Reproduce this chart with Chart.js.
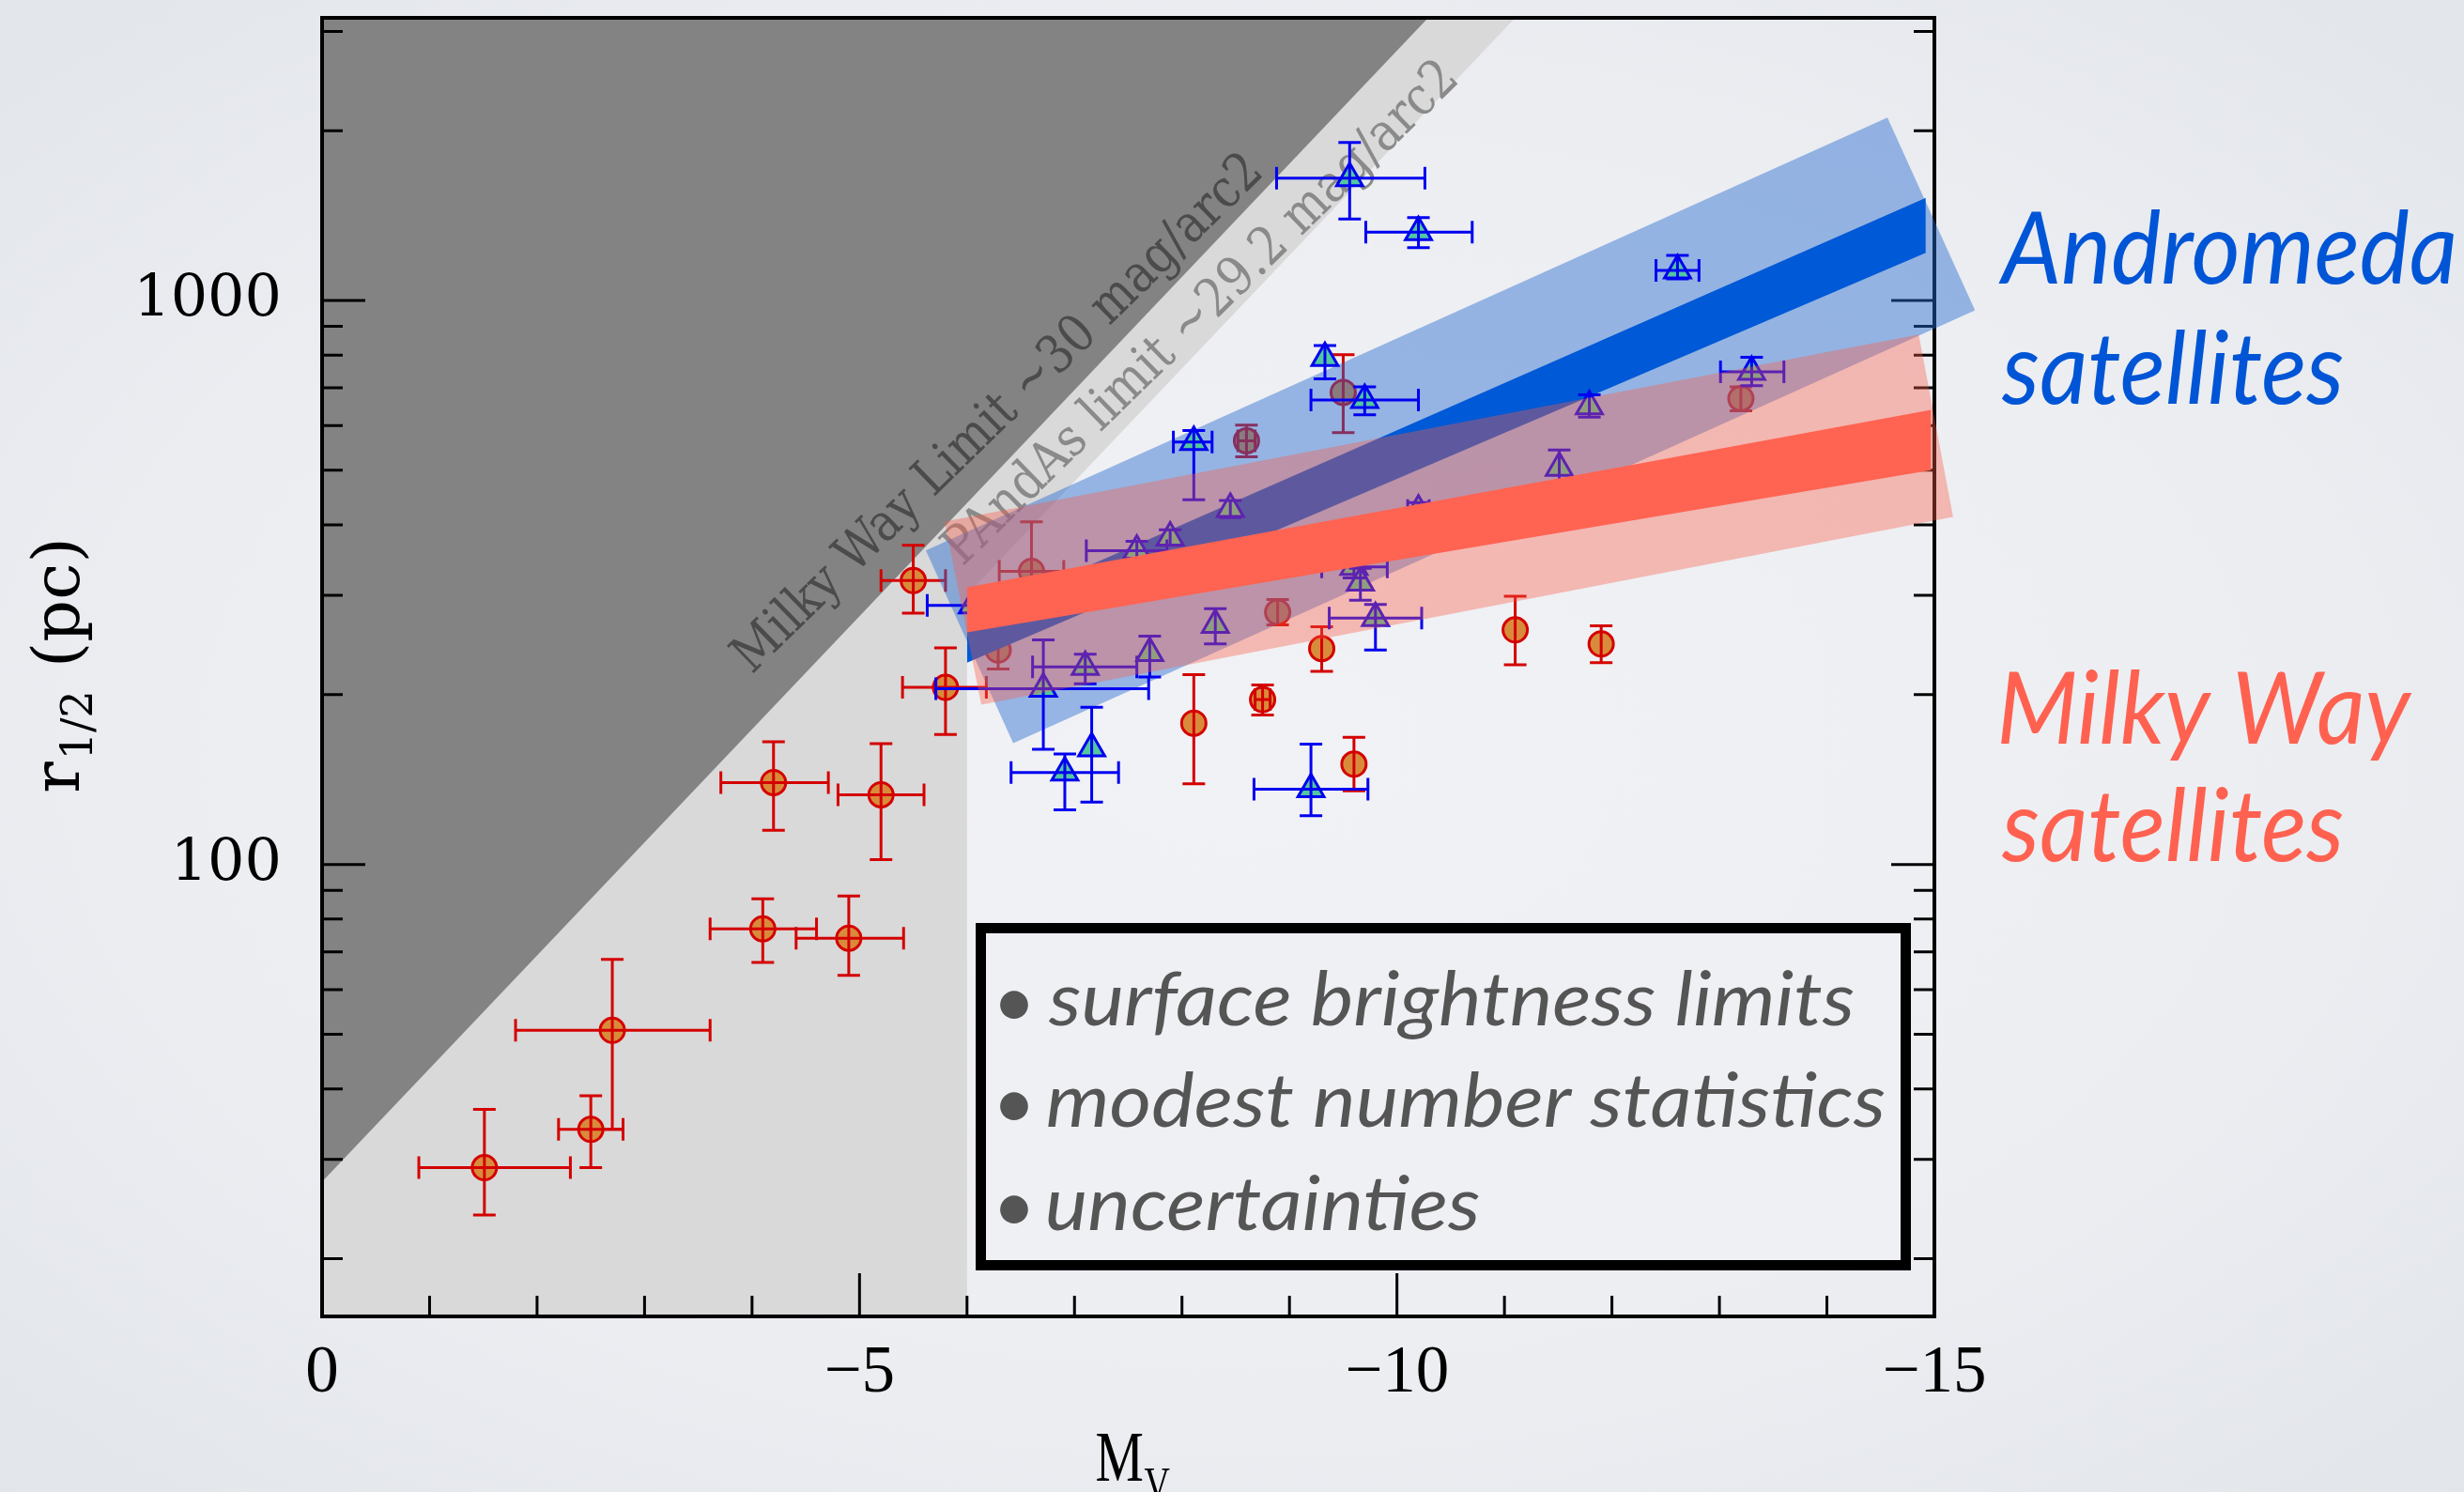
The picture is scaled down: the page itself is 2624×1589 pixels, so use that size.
<!DOCTYPE html>
<html><head><meta charset="utf-8">
<script src="https://cdn.jsdelivr.net/npm/chart.js@4.4.1/dist/chart.umd.min.js"></script>
<style>
html,body{margin:0;padding:0;width:2624px;height:1589px;overflow:hidden;
background:radial-gradient(ellipse 75% 75% at 50% 50%, #f1f2f5 0%, #eceef2 55%, #e1e4e9 100%);}
canvas{display:block}
</style></head><body>
<canvas id="c" width="2624" height="1589"></canvas>
<script>
// ---------------- axes ----------------
const xRange = [-15, 0];
const yRange = [15.8, 3170];
const xMajorTicks = [0, -5, -10, -15];
const xMajorLabels = ['0', '\u22125', '\u221210', '\u221215'];
const xMinorTicks = [-1, -2, -3, -4, -6, -7, -8, -9, -11, -12, -13, -14];
const yMajorTicks = [100, 1000];
const yMajorLabels = ['100', '1000'];
const yMinorTicks = [20, 30, 40, 50, 60, 70, 80, 90, 200, 300, 400, 500, 600, 700, 800, 900, 2000, 3000];

// ---------------- surface-brightness limits ----------------
const mwLimitMv = [0, -10.29];
const mwLimitR = [27.4, 3170];
const pandasLimitMv = [0, -6.0, -6.0, -11.10];
const pandasLimitR = [15.8, 15.8, 301, 3170];

// ---------------- Milky Way satellites ----------------
const mwMv   = [-1.51, -2.50, -2.70, -4.10, -4.90, -4.20, -5.20, -5.80, -5.50, -6.60, -6.29, -9.50, -8.60, -8.89, -9.30, -11.10, -11.90, -8.75, -8.11, -9.60, -13.20];
const mwR    = [29.0, 33.9, 50.8, 76.9, 74.0, 139.7, 132.9, 206, 318.6, 331, 240, 687, 564, 280, 241.5, 260.6, 246, 196, 178, 150.6, 670];
const mwMvLo = [-0.90, -2.20, -1.80, -3.61, -4.41, -3.71, -4.80, -5.40, -5.20, -6.30, null, null, -8.52, null, null, null, null, -8.68, null, null, null];
const mwMvHi = [-2.31, -2.80, -3.61, -4.60, -5.41, -4.71, -5.60, -6.18, -5.80, -6.90, null, null, -8.68, null, null, null, null, -8.82, null, null, null];
const mwRLo  = [23.9, 29.0, 33.9, 67.0, 63.6, 115, 102, 170, 279, 270, 222, 583, 528, 266, 220, 226, 228, 184, 139, 135, 637];
const mwRHi  = [36.8, 38.9, 67.9, 86.9, 87.9, 165, 163.7, 242, 368, 405, 255, 801, 601, 295, 264, 299, 265, 208, 217, 168, 703];

// ---------------- Andromeda satellites ----------------
const m31Mv   = [-9.56, -10.20, -12.61, -8.11, -9.33, -9.70, -13.30, -11.79, -9.60, -9.66, -9.80, -8.31, -7.70, -7.10, -6.71, -7.16, -6.91, -9.20, -7.58, -7.89, -8.45, -10.20, -11.51, -6.05];
const m31R    = [1647, 1322, 1130, 561, 791, 666, 747, 649, 337, 316, 273.5, 266, 237, 224, 205, 160.7, 145.5, 136, 360, 380, 427, 424, 505, 288];
const m31MvLo = [-8.88, -9.71, -12.41, -7.92, null, -9.20, -13.01, null, -9.30, null, -9.37, null, null, -6.61, -5.71, null, -6.41, -8.67, -7.11, null, null, -10.10, null, -5.63];
const m31MvHi = [-10.26, -10.70, -12.81, -8.28, null, -10.20, -13.60, null, -9.91, null, -10.23, null, null, -7.58, -7.69, null, -7.41, -9.73, -7.86, null, null, -10.30, null, -6.13];
const m31RLo  = [1395, 1241, 1092, 443, 726, 627, 706, 621, 322, 294, 240, 246, 215, 209, 160, 129, 125, 122, 347, 368, 412, 410, 466, null];
const m31RHi  = [1906, 1403, 1202, 588, 832, 703, 793, 680, 352, 335, 289, 284, 254, 236, 250, 190, 157, 163.5, 374, 392, 442, 438, 543, null];

// ---------------- size-luminosity relations (clouds) and scatter bands ----------------
const m31CloudMv = [-6.0, -14.92];
const m31CloudUpperR = [272, 1520];
const m31CloudLowerR = [228, 1215];
const mwCloudMv = [-6.0, -14.97];
const mwCloudUpperR = [310, 640];
const mwCloudLowerR = [258, 500];
const m31BandMv = [-5.617, -14.563, -15.378, -6.430];
const m31BandR  = [360.5, 2109, 960, 164.1];
const mwBandMv  = [-5.792, -14.854, -15.174, -6.133];
const mwBandR   = [405.6, 870.5, 413.3, 191.9];

// ---------------- texts ----------------
const limitTexts = ['Milky Way Limit ~30 mag/arc2', 'PAndAs limit ~29.2 mag/arc2'];
const limitAnchorMv = [-4.0, -5.958];
const limitAnchorR = [216.9, 336.6];
const sideLabels = [['Andromeda', 'satellites'], ['Milky Way', 'satellites']];
const noteLines = ['surface brightness limits', 'modest number statistics', 'uncertainties'];

// ---------------- styles ----------------
const C = {
  dark: '#838383', light: '#d9d9d9',
  mwFill: '#d98b3c', mwEdge: '#d40000',
  m31Fill: '#52c7a0', m31Edge: '#0000f0',
  m31Band: 'rgba(40,107,208,0.45)', mwBand: 'rgba(249,91,68,0.375)',
  m31Cloud: '#0059d6', mwCloud: '#ff6352',
  m31Text: '#0055d6', mwText: '#ff6150', note: '#555555'
};

const pts = (xs, ys) => xs.map((v, i) => ({x: v, y: ys[i]}));
const hidden = {borderWidth: 0, borderColor: 'transparent', pointRadius: 0, pointHoverRadius: 0};

function drawPoly(chart, xs, ys, color) {
  const {ctx, scales: {x, y}} = chart;
  ctx.save(); ctx.fillStyle = color; ctx.beginPath();
  xs.forEach((v, i) => {
    const px = x.getPixelForValue(v), py = y.getPixelForValue(ys[i]);
    if (i) ctx.lineTo(px, py); else ctx.moveTo(px, py);
  });
  ctx.closePath(); ctx.fill(); ctx.restore();
}

function drawErrors(chart, M, R, mLo, mHi, rLo, rHi, color) {
  const {ctx, scales: {x, y}} = chart;
  const cap = 12;
  ctx.save(); ctx.strokeStyle = color; ctx.lineWidth = 3; ctx.lineCap = 'butt';
  M.forEach((m, i) => {
    const px = x.getPixelForValue(m), py = y.getPixelForValue(R[i]);
    ctx.beginPath();
    if (mLo[i] !== null) {
      const a = x.getPixelForValue(mLo[i]), b = x.getPixelForValue(mHi[i]);
      ctx.moveTo(a, py); ctx.lineTo(b, py);
      ctx.moveTo(a, py - cap); ctx.lineTo(a, py + cap);
      ctx.moveTo(b, py - cap); ctx.lineTo(b, py + cap);
    }
    if (rLo[i] !== null) {
      const a = y.getPixelForValue(rLo[i]), b = y.getPixelForValue(rHi[i]);
      ctx.moveTo(px, a); ctx.lineTo(px, b);
      ctx.moveTo(px - cap, a); ctx.lineTo(px + cap, a);
      ctx.moveTo(px - cap, b); ctx.lineTo(px + cap, b);
    }
    ctx.stroke();
  });
  ctx.restore();
}

function inkScale(ctx, text, font, target) {
  ctx.font = font;
  const m = ctx.measureText(text);
  return target / (m.actualBoundingBoxRight + m.actualBoundingBoxLeft);
}
function drawScaled(ctx, text, x, y, font, sx) {
  ctx.save(); ctx.font = font;
  const m = ctx.measureText(text);
  ctx.translate(x + m.actualBoundingBoxLeft * sx, y); ctx.scale(sx, 1);
  ctx.fillText(text, 0, 0); ctx.restore();
}

function drawFrameAndTicks(chart) {
  const {ctx, chartArea: a, scales: {x, y}} = chart;
  ctx.save();
  ctx.strokeStyle = '#000'; ctx.lineWidth = 3;
  ctx.beginPath();
  const major = 46, minor = 22;
  xMajorTicks.forEach(v => { const p = x.getPixelForValue(v); ctx.moveTo(p, a.bottom); ctx.lineTo(p, a.bottom - major); });
  xMinorTicks.forEach(v => { const p = x.getPixelForValue(v); ctx.moveTo(p, a.bottom); ctx.lineTo(p, a.bottom - minor); });
  yMajorTicks.forEach(v => { const p = y.getPixelForValue(v);
    ctx.moveTo(a.left, p); ctx.lineTo(a.left + major, p); ctx.moveTo(a.right, p); ctx.lineTo(a.right - major, p); });
  yMinorTicks.forEach(v => { const p = y.getPixelForValue(v);
    ctx.moveTo(a.left, p); ctx.lineTo(a.left + minor, p); ctx.moveTo(a.right, p); ctx.lineTo(a.right - minor, p); });
  ctx.stroke();
  ctx.lineWidth = 4;
  ctx.strokeRect(a.left, a.top, a.right - a.left, a.bottom - a.top);
  ctx.restore();
}

function drawLimitTexts(chart) {
  const {ctx, scales: {x, y}} = chart;
  const ang = -44.3 * Math.PI / 180;
  const colors = ['#4b4b4b', '#8a8a8a'];
  const lens = [758, 735];
  limitTexts.forEach((t, i) => {
    const px = x.getPixelForValue(limitAnchorMv[i]), py = y.getPixelForValue(limitAnchorR[i]);
    const font = "56px 'DejaVu Serif'";
    const sx = inkScale(ctx, t, font, lens[i]);
    ctx.save(); ctx.translate(px, py); ctx.rotate(ang); ctx.scale(sx, 1);
    ctx.font = font; ctx.fillStyle = colors[i]; ctx.textBaseline = 'alphabetic';
    ctx.fillText(t, 0, 0); ctx.restore();
  });
}

function drawAnnotations(chart) {
  const {ctx, chartArea: a} = chart;
  // note box
  ctx.save();
  ctx.fillStyle = '#eff0f4';
  ctx.fillRect(1044, 988, 986, 360);
  ctx.strokeStyle = '#000'; ctx.lineWidth = 11;
  ctx.strokeRect(1044.5, 988.5, 985, 359);
  const nf = "italic 80px Lato";
  const nsx = inkScale(ctx, noteLines[1], nf, 891);
  const baselines = [1092, 1200, 1310];
  ctx.fillStyle = C.note; ctx.textBaseline = 'alphabetic';
  noteLines.forEach((t, i) => {
    drawScaled(ctx, t, 1116, baselines[i], nf, nsx);
    ctx.font = "80px Lato"; ctx.textAlign = 'center';
    ctx.fillText('\u2022', 1080, baselines[i] + 2);
    ctx.textAlign = 'left';
  });
  // side labels
  const sf = "italic 106px Lato";
  const ssx = inkScale(ctx, sideLabels[0][0], sf, 485);
  ctx.fillStyle = C.m31Text;
  drawScaled(ctx, sideLabels[0][0], 2128, 302, sf, ssx);
  drawScaled(ctx, sideLabels[0][1], 2131, 430, sf, ssx);
  ctx.fillStyle = C.mwText;
  drawScaled(ctx, sideLabels[1][0], 2131, 792, sf, ssx);
  drawScaled(ctx, sideLabels[1][1], 2131, 917, sf, ssx);
  // y title r_{1/2} (pc)
  ctx.fillStyle = '#000';
  const cy = (a.top + a.bottom) / 2;
  ctx.translate(84, cy); ctx.rotate(-Math.PI / 2);
  const big = "70px 'DejaVu Serif'", small = "46px 'DejaVu Serif'";
  ctx.font = big; const w1 = ctx.measureText('r').width; const w3 = ctx.measureText(' (pc)').width;
  ctx.font = small; const w2 = ctx.measureText('1/2').width;
  let x0 = -(w1 + w2 + w3) / 2;
  ctx.font = big; ctx.fillText('r', x0, 0);
  ctx.font = small; ctx.fillText('1/2', x0 + w1 + 2, 14);
  ctx.font = big; ctx.fillText(' (pc)', x0 + w1 + w2 + 4, 0);
  ctx.restore();
  // x title M_V
  ctx.save(); ctx.fillStyle = '#000';
  const cx = (a.left + a.right) / 2;
  ctx.translate(cx - 35, 1577); ctx.scale(0.76, 1);
  ctx.font = "76px 'Liberation Serif'"; ctx.fillText('M', 0, 0);
  const wm = ctx.measureText('M').width;
  ctx.font = "50px 'Liberation Serif'"; ctx.fillText('V', wm + 1, 20);
  ctx.restore();
}

const decor = {
  id: 'decor',
  beforeDatasetDraw(chart, args) {
    if (args.index === 2) { drawLimitTexts(chart); drawFrameAndTicks(chart); }
    if (args.index === 3) drawPoly(chart, m31BandMv, m31BandR, C.m31Band);
    if (args.index === 6) drawPoly(chart, mwBandMv, mwBandR, C.mwBand);
  },
  afterDatasetDraw(chart, args) {
    if (args.index === 2) drawErrors(chart, mwMv, mwR, mwMvLo, mwMvHi, mwRLo, mwRHi, C.mwEdge);
    if (args.index === 5) drawErrors(chart, m31Mv, m31R, m31MvLo, m31MvHi, m31RLo, m31RHi, C.m31Edge);
  },
  afterDatasetsDraw(chart) { drawAnnotations(chart); }
};

new Chart(document.getElementById('c'), {
  type: 'scatter',
  data: {
    datasets: [
      {type: 'line', data: pts(pandasLimitMv, pandasLimitR), fill: 'end', backgroundColor: C.light, order: 10, ...hidden},
      {type: 'line', data: pts(mwLimitMv, mwLimitR), fill: 'end', backgroundColor: C.dark, order: 9, ...hidden},
      {type: 'scatter', data: pts(mwMv, mwR), pointStyle: 'circle', pointRadius: 13, pointBackgroundColor: C.mwFill,
       pointBorderColor: C.mwEdge, pointBorderWidth: 3, order: 8},
      {type: 'line', data: pts(m31CloudMv, m31CloudUpperR), fill: false, order: 7, ...hidden},
      {type: 'line', data: pts(m31CloudMv, m31CloudLowerR), fill: '-1', backgroundColor: C.m31Cloud, order: 6, ...hidden},
      {type: 'scatter', data: pts(m31Mv, m31R), pointStyle: 'triangle', pointRadius: 16, pointBackgroundColor: C.m31Fill,
       pointBorderColor: C.m31Edge, pointBorderWidth: 3, order: 5},
      {type: 'line', data: pts(mwCloudMv, mwCloudUpperR), fill: false, order: 4, ...hidden},
      {type: 'line', data: pts(mwCloudMv, mwCloudLowerR), fill: '-1', backgroundColor: C.mwCloud, order: 3, ...hidden}
    ]
  },
  options: {
    responsive: false, animation: false, devicePixelRatio: 1, events: [],
    layout: {padding: {top: 15, right: 564, left: 0, bottom: 0}},
    plugins: {legend: {display: false}, tooltip: {enabled: false}},
    scales: {
      x: {
        type: 'linear', min: xRange[0], max: xRange[1], reverse: true, bounds: 'data',
        grid: {display: false, drawTicks: false}, border: {display: false},
        afterBuildTicks: s => { s.ticks = [...xMajorTicks, ...xMinorTicks].map(v => ({value: v})); },
        afterFit: s => { s.height = 187; s.paddingLeft = 0; s.paddingRight = 0; },
        ticks: {autoSkip: false, maxRotation: 0, padding: 19, color: '#000',
          font: {family: "'Liberation Serif'", size: 71},
          callback: v => { const k = xMajorTicks.indexOf(v); return k >= 0 ? xMajorLabels[k] : ''; }}
      },
      y: {
        type: 'logarithmic', min: yRange[0], max: yRange[1], bounds: 'data',
        grid: {display: false, drawTicks: false}, border: {display: false},
        afterBuildTicks: s => { s.ticks = [...yMajorTicks, ...yMinorTicks].map(v => ({value: v})); },
        afterFit: s => { s.width = 343; s.paddingTop = 0; s.paddingBottom = 0; },
        ticks: {autoSkip: false, padding: 43, color: '#000',
          font: {family: "'DejaVu Serif'", size: 62},
          callback: v => { const k = yMajorTicks.indexOf(v); return k >= 0 ? yMajorLabels[k] : ''; }}
      }
    }
  },
  plugins: [decor]
});
</script>
</body></html>
